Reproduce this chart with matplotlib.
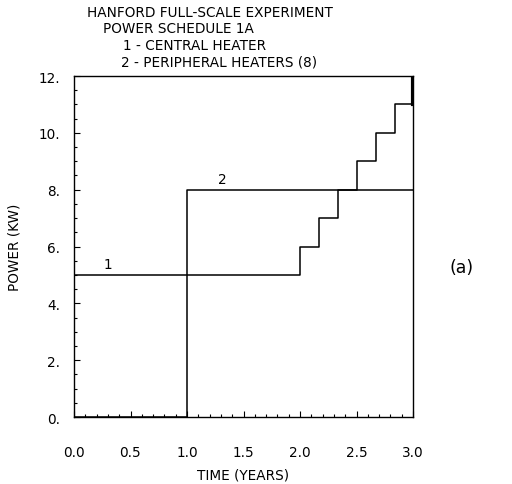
import matplotlib.pyplot as plt

# central heater (1) and peripheral heaters (2), step schedules
t1 = [0.0, 2.0, 2.17, 2.34, 2.5, 2.67, 2.84, 3.0]
p1 = [5, 6, 7, 8, 9, 10, 11, 12]
t2 = [0.0, 1.0, 3.0]
p2 = [0, 8, 8]

xticks = [0.0, 0.5, 1.0, 1.5, 2.0, 2.5, 3.0]
xlabels = ['0.0', '0.5', '1.0', '1.5', '2.0', '2.5', '3.0']
yticks = [0, 2, 4, 6, 8, 10, 12]
ylabels = ['0.', '2.', '4.', '6.', '8.', '10.', '12.']

title_lines = ['HANFORD FULL-SCALE EXPERIMENT',
               'POWER SCHEDULE 1A',
               '1 - CENTRAL HEATER',
               '2 - PERIPHERAL HEATERS (8)']

plt.rcParams['font.family'] = 'DejaVu Sans'
fs = 9.8

fig = plt.figure(figsize=(5.12, 4.85), dpi=100)
ax = fig.add_axes([74/512, 1-418/485, 339/512, 341/485])

ax.step(t1, p1, where='post', color='black', lw=1.1)
ax.step(t2, p2, where='post', color='black', lw=1.1)
# heavy final riser at 3.0 yr
ax.plot([t1[-1], t1[-1]], [p1[-2], p1[-1]], color='black', lw=3)

ax.set_xlim(0, 3)
ax.set_ylim(0, 12)
ax.set_xticks(xticks)
ax.set_xticklabels(xlabels, fontsize=fs)
ax.set_yticks(yticks)
ax.set_yticklabels(ylabels, fontsize=fs)
ax.set_xticks([i/10 for i in range(31)], minor=True)
ax.set_yticks([i/2 for i in range(25)], minor=True)
ax.tick_params(which='both', direction='in', top=False, right=False)
ax.tick_params(which='major', length=4, width=0.8)
ax.tick_params(which='minor', length=2, width=0.8)
ax.tick_params(axis='x', pad=20)
ax.tick_params(axis='y', pad=10)
for s in ax.spines.values():
    s.set_linewidth(1.0)

ax.set_xlabel('TIME (YEARS)', fontsize=fs, labelpad=6)
ax.set_ylabel('POWER (KW)', fontsize=fs, labelpad=12)

ax.text(0.26, 5.25, '1', fontsize=fs)
ax.text(1.27, 8.25, '2', fontsize=fs)

xs = [87, 103, 123, 121]
ys = [13, 29, 46, 62]
for s, x, y in zip(title_lines, xs, ys):
    fig.text(x/512, 1-y/485, s, fontsize=fs, ha='left', va='center')

fig.text(462/512, 1-268/485, '(a)', fontsize=12.5, ha='center', va='center')

fig.savefig('out.png', dpi=100)
